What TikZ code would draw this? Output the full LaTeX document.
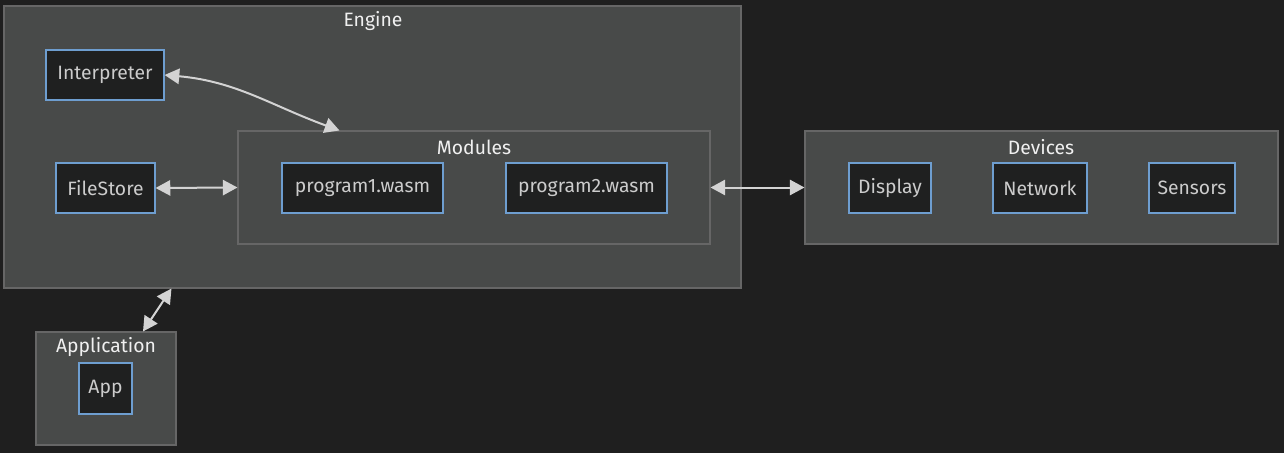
\documentclass[tikz,border=0pt]{standalone}
\usepackage{fontspec}
\setmainfont{Fira Sans}
\usetikzlibrary{arrows.meta,calc}
\definecolor{bgdark}{HTML}{1F1F1F}
\definecolor{clusterfill}{HTML}{484A49}
\definecolor{clusterline}{HTML}{666666}
\definecolor{boxfill}{HTML}{1F2020}
\definecolor{boxline}{HTML}{6E9ED0}
\definecolor{boxtext}{HTML}{CCCCCC}
\definecolor{titletext}{HTML}{F0F0F0}
\definecolor{linkgray}{HTML}{D3D3D3}
\begin{document}
\begin{tikzpicture}[x=0.75pt,y=-0.75pt,
    cluster/.style={draw=clusterline, fill=clusterfill, line width=0.8pt, inner sep=0pt},
    title/.style={text=titletext, font=\fontsize{14.5}{16}\selectfont},
    box/.style={draw=boxline, fill=boxfill, text=boxtext, line width=0.9pt,
      minimum height=37.5pt, inner sep=0pt, font=\fontsize{14.5}{16}\selectfont},
    link/.style={draw=linkgray, line width=1.5pt,
      {Triangle[length=11pt,width=11.5pt]}-{Triangle[length=11pt,width=11.5pt]}}]
  \fill[bgdark] (0,0) rectangle (1284,453);
  % groups
  \node[cluster, minimum width=552.75pt, minimum height=211.5pt] (engine) at (372.5,147) {};
  \node[cluster, minimum width=354pt, minimum height=84.75pt] (modules) at (474,187.5) {};
  \node[cluster, minimum width=354.75pt, minimum height=84.75pt] (devices) at (1041.5,187.5) {};
  \node[cluster, minimum width=105pt, minimum height=84.75pt] (application) at (106,388.5) {};
  \node[title] (enginetitle) at (373,21) {Engine};
  \node[title] (modulestitle) at (474,147) {Modules};
  \node[title] (devicestitle) at (1041,147) {Devices};
  \node[title] (applicationtitle) at (106,347) {Application};
  % boxes
  \node[box, minimum width=88.5pt] (interp) at (105,75) {Interpreter};
  \node[box, minimum width=74.25pt] (filestore) at (105.5,188) {FileStore};
  \node[box, minimum width=120.75pt] (prog1) at (362.5,188) {program1.wasm};
  \node[box, minimum width=120.75pt] (prog2) at (586.5,188) {program2.wasm};
  \node[box, minimum width=61.5pt] (display) at (890,188) {Display};
  \node[box, minimum width=70.5pt] (network) at (1040,188) {Network};
  \node[box, minimum width=64.5pt] (sensors) at (1192,188) {Sensors};
  \node[box, minimum width=39.75pt, minimum height=38.25pt] (app) at (105.5,388.5) {App};
  % links
  \draw[link] (interp.east) to[out=-5, in=160] ($(modules.north west)+(102,0)$);
  \draw[link] (filestore.east) -- (modules.west);
  \draw[link] (modules.east) -- (devices.west);
  \draw[link] ($(engine.south west)+(168,0)$) -- ($(application.north)+(37,0)$);
\end{tikzpicture}
\end{document}
